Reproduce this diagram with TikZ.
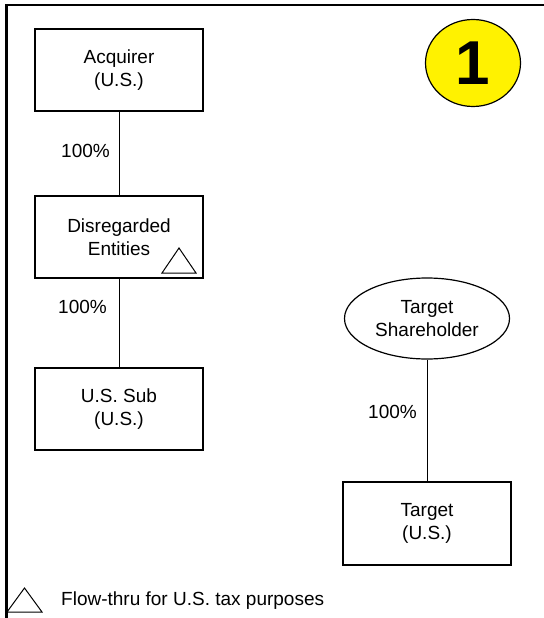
\documentclass[tikz,border=0pt]{standalone}
\usepackage{fontspec}
\setmainfont{Liberation Sans}
\usetikzlibrary{shapes.geometric}
\begin{document}
\begin{tikzpicture}[x=1bp,y=-1bp,
  every node/.style={font=\fontsize{19bp}{22.5bp}\selectfont, align=center, inner sep=0pt},
  entity/.style={draw, line width=1.2bp, minimum width=168bp, minimum height=82bp},
  holder/.style={draw, ellipse, line width=1.2bp, minimum width=165bp, minimum height=81bp},
  badge/.style={draw, ellipse, line width=1.2bp, fill=yellow, minimum width=95bp, minimum height=87bp,
    font=\fontsize{62bp}{62bp}\bfseries\selectfont},
  conn/.style={line width=1bp},
  pct/.style={anchor=east},
  flowtri/.style={line width=1bp}]
\useasboundingbox (0,0) rectangle (544,618);
% frame
\draw[line width=2.2bp] (6.5,618) -- (6.5,5) -- (544,5);
% nodes
\node[entity] (acq) at (119,70) {Acquirer\\(U.S.)};
\node[entity] (dre) at (119,237) {Disregarded\\Entities};
\node[entity] (sub) at (119,409) {U.S. Sub\\(U.S.)};
\node[holder] (tsh) at (427,318.5) {Target\\Shareholder};
\node[entity, minimum height=83bp] (tgt) at (427,523.5) {Target\\(U.S.)};
\node[badge] (one) at (473,63) {1};
% connectors
\draw[conn] (acq) -- (dre);
\draw[conn] (dre) -- (sub);
\draw[conn] (tsh) -- (tgt);
% labels
\node[pct] (p1) at (110,151) {100\%};
\node[pct] (p2) at (107,307) {100\%};
\node[pct] (p3) at (417,412) {100\%};
% flow-thru triangle in box
\draw[flowtri] (162,273) -- (179,248) -- (196,273) -- cycle;
% legend
\draw[flowtri] (7,612) -- (24.5,588) -- (42,612) -- cycle;
\node[anchor=west] (leg) at (61,601) {Flow-thru for U.S. tax purposes};
\end{tikzpicture}
\end{document}
